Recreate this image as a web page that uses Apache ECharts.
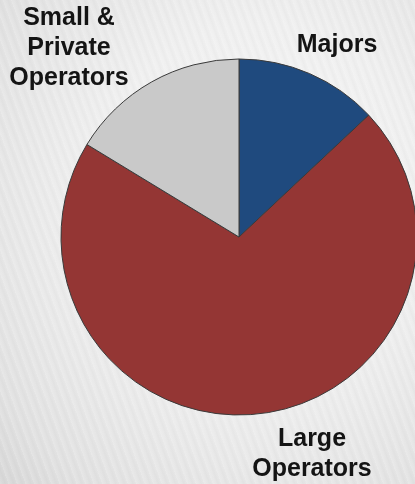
<!DOCTYPE html>
<html>
<head>
<meta charset="utf-8">
<script src="https://cdn.jsdelivr.net/npm/echarts@6/dist/echarts.min.js"></script>
<style>
  html, body { margin: 0; padding: 0; }
  body {
    width: 415px; height: 484px; overflow: hidden;
    background:
      repeating-linear-gradient(70deg, rgba(255,255,255,0.16) 0px, rgba(255,255,255,0) 3px, rgba(0,0,0,0.02) 5px, rgba(255,255,255,0) 8px),
      radial-gradient(ellipse at 62% 42%, #f6f6f6 0%, #f0f0f0 45%, #e2e2e2 85%, #d8d8d8 100%);
  }
  #chart { width: 415px; height: 484px; }
</style>
</head>
<body>
<div id="chart"></div>
<script>
// Market share by operator type
const categories = ['Majors', 'Large\nOperators', 'Small &\nPrivate\nOperators'];
const shares = [13.0, 70.7, 16.3];
const sliceColors = ['#1f4a7e', '#943634', '#c9c9c9'];

// Label anchor points (centre of each text block)
const labelAnchors = [
  { x: 337, y: 45 },
  { x: 312, y: 454 },
  { x: 69, y: 48 }
];

const chart = echarts.init(document.getElementById('chart'), null, { renderer: 'canvas' });

chart.setOption({
  backgroundColor: 'transparent',
  animation: false,
  series: [{
    type: 'pie',
    center: [239, 237],
    radius: [0, 178],
    startAngle: 90,
    clockwise: true,
    data: categories.map((name, i) => ({
      name: name,
      value: shares[i],
      itemStyle: { color: sliceColors[i] }
    })),
    itemStyle: { borderColor: '#3a3a3a', borderWidth: 1 },
    label: { show: false },
    labelLine: { show: false },
    emphasis: { disabled: true }
  }],
  graphic: categories.map((name, i) => ({
    type: 'text',
    x: labelAnchors[i].x,
    y: labelAnchors[i].y,
    silent: true,
    style: {
      text: name,
      fill: '#141414',
      font: 'bold 25px "Liberation Sans", Arial, sans-serif',
      lineHeight: 30,
      align: 'center',
      verticalAlign: 'middle'
    }
  }))
});
</script>
</body>
</html>
